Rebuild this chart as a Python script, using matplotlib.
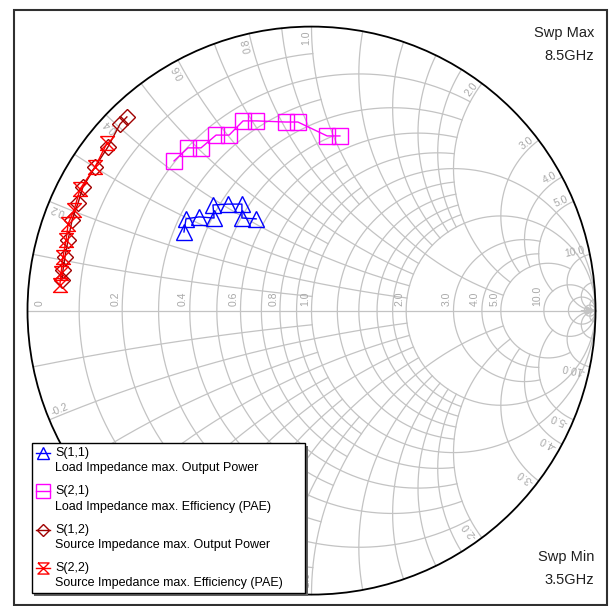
import numpy as np
import matplotlib
matplotlib.use('Agg')
import matplotlib.pyplot as plt
from matplotlib.path import Path
from matplotlib.patches import Rectangle, Circle

# Optimum impedances from load/source pull, 3.5 - 8.5 GHz sweep,
# stored as reflection coefficients (real, imaginary).
s11_re = [-0.449, -0.442, -0.396, -0.343, -0.347, -0.294, -0.245, -0.245, -0.195]
s11_im = [0.277, 0.323, 0.330, 0.326, 0.372, 0.375, 0.375, 0.326, 0.323]

s21_re = [-0.484, -0.435, -0.389, -0.336, -0.290, -0.241, -0.195, -0.090, -0.048, 0.055, 0.100]
s21_im = [0.527, 0.573, 0.573, 0.618, 0.618, 0.668, 0.668, 0.664, 0.664, 0.615, 0.615]

s12_re = [-0.650, -0.674, -0.717, -0.762, -0.805, -0.822, -0.843, -0.857, -0.868, -0.875, -0.879]
s12_im = [0.682, 0.657, 0.576, 0.506, 0.435, 0.379, 0.319, 0.249, 0.189, 0.143, 0.108]

s22_re = [-0.720, -0.762, -0.815, -0.836, -0.857, -0.864, -0.875, -0.882, -0.886]
s22_im = [0.590, 0.506, 0.428, 0.354, 0.305, 0.249, 0.189, 0.132, 0.090]

trace_names = ['S(1,1)', 'S(2,1)', 'S(1,2)', 'S(2,2)']
trace_notes = ['Load Impedance max. Output Power',
               'Load Impedance max. Efficiency (PAE)',
               'Source Impedance max. Output Power',
               'Source Impedance max. Efficiency (PAE)']

# Smith grid: resistance circles (r, |x| limit) and reactance arcs (x, r limit)
res_grid = [(0.1, 1.0), (0.2, 2.0), (0.3, 1.0), (0.4, 2.0), (0.5, 1.0),
            (0.6, 2.0), (0.7, 1.0), (0.8, 2.0), (0.9, 1.0), (1.0, np.inf),
            (1.2, 2.0), (1.4, 2.0), (1.6, 2.0), (1.8, 2.0), (2.0, np.inf),
            (3.0, 5.0), (4.0, 5.0), (5.0, 10.0), (10.0, np.inf),
            (20.0, np.inf), (50.0, np.inf)]
react_grid = [(0.1, 1.0), (0.2, 2.0), (0.3, 1.0), (0.4, 2.0), (0.5, 1.0),
              (0.6, 2.0), (0.7, 1.0), (0.8, 2.0), (0.9, 1.0), (1.0, 5.0),
              (1.2, 2.0), (1.4, 2.0), (1.6, 2.0), (1.8, 2.0), (2.0, 5.0),
              (3.0, 5.0), (4.0, 5.0), (5.0, 10.0), (10.0, np.inf),
              (20.0, np.inf), (50.0, np.inf)]
grid_labels = [0.2, 0.4, 0.6, 0.8, 1.0, 2.0, 3.0, 4.0, 5.0, 10.0]

GRID = '#c3c3c3'
LABEL = '#a8a8a8'
W, H = 611, 606
FONT = 'Liberation Sans'
LSIZE = 7.5


def gamma(z):
    """Reflection coefficient of a normalised impedance."""
    return (z - 1) / (z + 1)


def fig_xy(px, py):
    """Pixel position to figure fraction."""
    return px / W, 1 - py / H


def draw_grid(ax):
    lim = np.pi / 2 - 1e-7
    for r, xmax in res_grid:
        s = np.linspace(-min(np.arctan(xmax), lim), min(np.arctan(xmax), lim), 600)
        g = gamma(r + 1j * np.tan(s))
        ax.plot(g.real, g.imag, color=GRID, lw=0.9, zorder=1)
    for x, rmax in react_grid:
        t = np.linspace(0, min(np.arctan(rmax), lim), 400)
        for sign in (1, -1):
            g = gamma(np.tan(t) + 1j * sign * x)
            ax.plot(g.real, g.imag, color=GRID, lw=0.9, zorder=1)
    ax.plot([-1, 1], [0, 0], color=GRID, lw=0.9, zorder=1)
    ax.annotate('', xy=(1.0, 0), xytext=(0.95, 0),
                arrowprops=dict(arrowstyle='-|>', color=GRID, lw=0.9,
                                mutation_scale=14, shrinkA=0, shrinkB=0))
    ax.add_patch(Circle((0, 0), 1, fill=False, color='black', lw=1.3, zorder=3))

    # grid values along the real axis and around the rim
    ax.text(-0.94, 0.015, '0', rotation=90, rotation_mode='anchor',
            ha='left', va='bottom', fontsize=LSIZE, color=LABEL, family=FONT)
    for v in grid_labels:
        g0 = gamma(v)
        ax.text(g0 - 0.006, 0.015, '%.1f' % v, rotation=90,
                rotation_mode='anchor', ha='left', va='bottom',
                fontsize=LSIZE, color=LABEL, family=FONT)
        th = np.pi - 2 * np.arctan(v)
        ax.text(0.985 * np.cos(th), 0.985 * np.sin(th), '%.1f' % v,
                rotation=np.degrees(th), rotation_mode='anchor',
                ha='right', va='bottom', fontsize=LSIZE, color=LABEL, family=FONT)
        ax.text(0.985 * np.cos(-th), 0.985 * np.sin(-th), '-%.1f' % v,
                rotation=np.degrees(-th) + 180, rotation_mode='anchor',
                ha='left', va='bottom', fontsize=LSIZE, color=LABEL, family=FONT)


def hourglass():
    verts = [(-1, 1), (1, 1), (-1, -1), (1, -1), (-1, 1)]
    return Path(verts, [Path.MOVETO] + [Path.LINETO] * 4)


fig = plt.figure(figsize=(W / 100, H / 100), dpi=100)
ax = fig.add_axes([0, 0, 1, 1])
ax.set_xlim((0 - 311.5) / 284, (W - 311.5) / 284)
ax.set_ylim((310.6 - H) / 284, 310.6 / 284)
ax.axis('off')

draw_grid(ax)

styles = [
    dict(color='#0000ff', marker='^', ms=11),
    dict(color='#ff00ff', marker='s', ms=12),
    dict(color='#a00000', marker='D', ms=8),
    dict(color='#ff0000', marker=hourglass(), ms=10),
]
series = [(s11_re, s11_im), (s21_re, s21_im), (s12_re, s12_im), (s22_re, s22_im)]
for (re, im), st in zip(series, styles):
    ax.plot(re, im, color=st['color'], lw=1, marker=st['marker'],
            ms=st['ms'], mfc='none', mec=st['color'], mew=1, zorder=5)

# outer frame
x0, y0 = fig_xy(13.5, 604.5)
x1, y1 = fig_xy(606.5, 9.5)
fig.patches.append(Rectangle((x0, y0), x1 - x0, y1 - y0, transform=fig.transFigure,
                             fill=False, ec='#303030', lw=1.5))

# sweep limits
for txt, py in [('Swp Max', 33), ('8.5GHz', 56), ('Swp Min', 557), ('3.5GHz', 580)]:
    fig.text(*fig_xy(594, py), txt, ha='right', va='center', fontsize=10.5,
             family=FONT, color='#202020')

# legend box with shadow
bx0, by0 = fig_xy(31.5, 593)
bx1, by1 = fig_xy(305, 443)
sx, sy = 2.5 / W, 2.5 / H
ax.add_patch(Rectangle((bx0 + sx, by0 - sy), bx1 - bx0, by1 - by0,
                       transform=fig.transFigure, fc='#606060', ec='none',
                       zorder=8, clip_on=False))
ax.add_patch(Rectangle((bx0, by0), bx1 - bx0, by1 - by0,
                       transform=fig.transFigure, fc='white', ec='black',
                       lw=1, zorder=9, clip_on=False))
for i, (name, note, st) in enumerate(zip(trace_names, trace_notes, styles)):
    ly = 453 + i * 38.3
    hx = [fig_xy(p, ly)[0] for p in (36, 43, 50)]
    hy = [fig_xy(36, ly)[1]] * 3
    ax.plot(hx, hy, transform=fig.transFigure, color=st['color'], lw=1,
            marker=st['marker'], ms=st['ms'] * 0.8, mfc='none',
            mec=st['color'], markevery=[1], zorder=10, clip_on=False)
    fig.text(*fig_xy(55, ly), name, ha='left', va='center', fontsize=9,
             family=FONT, zorder=11)
    fig.text(*fig_xy(55, ly + 15.5), note, ha='left', va='center',
             fontsize=9, family=FONT, zorder=11)

fig.savefig('out.png', dpi=100)
